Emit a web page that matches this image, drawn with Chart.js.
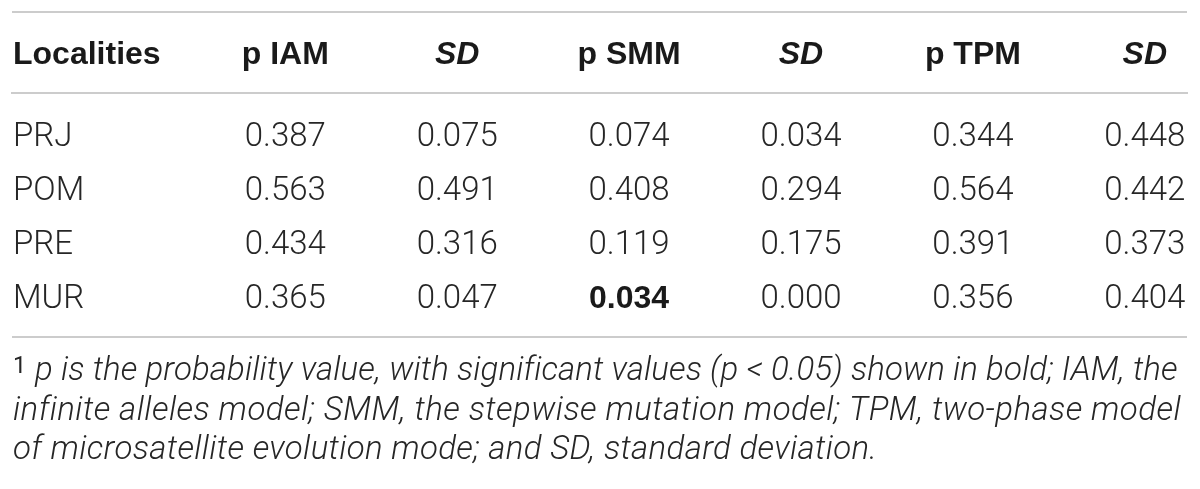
<!DOCTYPE html>
<html><head><meta charset="utf-8">
<script src="https://cdn.jsdelivr.net/npm/chart.js@4.4.1/dist/chart.umd.min.js"></script>
<style>html,body{margin:0;padding:0;background:#fff;}#wrap{width:1200px;height:489px;position:relative;}</style>
</head><body><div id="wrap"><canvas id="c"></canvas></div>
<script>
// ---- data ----
const localities = ['PRJ', 'POM', 'PRE', 'MUR'];
const rowHeader = 'Localities';
const columnHeaders = ['p IAM', 'SD', 'p SMM', 'SD', 'p TPM', 'SD'];
const pIAM  = [0.387, 0.563, 0.434, 0.365];
const sdIAM = [0.075, 0.491, 0.316, 0.047];
const pSMM  = [0.074, 0.408, 0.119, 0.034];
const sdSMM = [0.034, 0.294, 0.175, 0.000];
const pTPM  = [0.344, 0.564, 0.391, 0.356];
const sdTPM = [0.448, 0.442, 0.373, 0.404];
const significance = 0.05;
const footnoteMark = '1';
const footnoteLines = [
  'p is the probability value, with significant values (p < 0.05) shown in bold; IAM, the',
  'infinite alleles model; SMM, the stepwise mutation model; TPM, two-phase model',
  'of microsatellite evolution mode; and SD, standard deviation.'
];

// ---- style ----
const BOLDFONT = '"Liberation Sans", Arial, Helvetica, sans-serif';
const LIGHTFONT = 'Roboto, "Liberation Sans", Arial, sans-serif';
const SIZE = 32;
const LIGHTSIZE = 33;
const NOTESIZE = 33;
const TEXT = '#262626';
const HEAD = '#1a1a1a';
const RULE = '#cccccc';

const columns = [pIAM, sdIAM, pSMM, sdSMM, pTPM, sdTPM];
const isPColumn = columnHeaders.map(h => h.startsWith('p '));

const datasets = columns.map((vals, c) => ({
  label: columnHeaders[c],
  data: vals.map((v, r) => ({ x: c + 1, y: r, v })),
  pointRadius: 0,
  pointHoverRadius: 0,
  showLine: false
}));

const tablePlugin = {
  id: 'tableText',
  afterDatasetsDraw(chart) {
    const { ctx, chartArea, scales: { x, y } } = chart;
    ctx.save();
    // rules (top and bottom)
    ctx.strokeStyle = RULE;
    ctx.lineWidth = 2;
    [x.top, chartArea.bottom].forEach(yy => {
      ctx.beginPath();
      ctx.moveTo(chartArea.left, yy);
      ctx.lineTo(chartArea.right, yy);
      ctx.stroke();
    });
    // row header
    const hdrY = x.bottom - x.options.ticks.padding - SIZE * 1.2 / 2;
    ctx.textAlign = 'left';
    ctx.textBaseline = 'middle';
    ctx.fillStyle = HEAD;
    ctx.font = `bold ${SIZE}px ${BOLDFONT}`;
    ctx.fillText(rowHeader, chartArea.left + 1, hdrY);
    // row labels
    ctx.textBaseline = 'alphabetic';
    ctx.fillStyle = TEXT;
    ctx.font = `300 ${LIGHTSIZE}px ${LIGHTFONT}`;
    localities.forEach((name, r) => ctx.fillText(name, chartArea.left + 1, y.getPixelForValue(r) + LIGHTSIZE * 0.355));
    // cells
    ctx.textAlign = 'center';
    chart.data.datasets.forEach((ds, c) => {
      const meta = chart.getDatasetMeta(c);
      meta.data.forEach((pt, r) => {
        const v = ds.data[r].v;
        const bold = isPColumn[c] && v < significance;
        ctx.fillStyle = bold ? HEAD : TEXT;
        ctx.font = bold ? `bold ${SIZE}px ${BOLDFONT}` : `300 ${LIGHTSIZE}px ${LIGHTFONT}`;
        ctx.fillText(v.toFixed(3), pt.x, pt.y + (bold ? SIZE * 0.36 : LIGHTSIZE * 0.355));
      });
    });
    // footnote
    const top = chartArea.bottom;
    ctx.textAlign = 'left';
    ctx.fillStyle = TEXT;
    ctx.font = `23.5px ${LIGHTFONT}`;
    ctx.fillText(footnoteMark, chartArea.left + 1, top + 36);
    const starts = [chartArea.left + 23, chartArea.left + 1, chartArea.left + 1];
    const ends = [1177, 1180, 877];
    ctx.font = `italic 300 ${NOTESIZE}px ${LIGHTFONT}`;
    footnoteLines.forEach((line, i) => {
      ctx.letterSpacing = '0px';
      const w = ctx.measureText(line).width;
      const ls = (ends[i] - starts[i] - w) / Math.max(1, line.length - 1);
      ctx.letterSpacing = ls.toFixed(3) + 'px';
      ctx.fillText(line, starts[i], top + 43 + i * 39.5);
    });
    ctx.letterSpacing = '0px';
    ctx.restore();
  }
};

new Chart(document.getElementById('c'), {
  type: 'scatter',
  data: { datasets },
  options: {
    responsive: true,
    maintainAspectRatio: false,
    animation: false,
    events: [],
    layout: { padding: { top: 12, left: 12, right: 13, bottom: 152 } },
    plugins: { legend: { display: false }, tooltip: { enabled: false } },
    scales: {
      x: {
        type: 'linear',
        position: 'top',
        min: -0.59,
        max: 6.2455,
        grid: { display: false, drawTicks: false },
        border: { display: true, color: RULE, width: 2 },
        ticks: {
          autoSkip: false,
          maxRotation: 0,
          padding: 18.6,
          color: HEAD,
          font: ctx => ({
            family: BOLDFONT,
            size: SIZE,
            weight: 'bold',
            style: columnHeaders[ctx.index] === 'SD' ? 'italic' : 'normal'
          }),
          callback: v => columnHeaders[v - 1]
        },
        afterBuildTicks: scale => { scale.ticks = columnHeaders.map((h, i) => ({ value: i + 1 })); },
        afterFit: scale => { scale.height = 81; }
      },
      y: {
        type: 'linear',
        reverse: true,
        min: -0.759,
        max: 3.759,
        display: false
      }
    }
  },
  plugins: [tablePlugin]
});
</script>
</body></html>
